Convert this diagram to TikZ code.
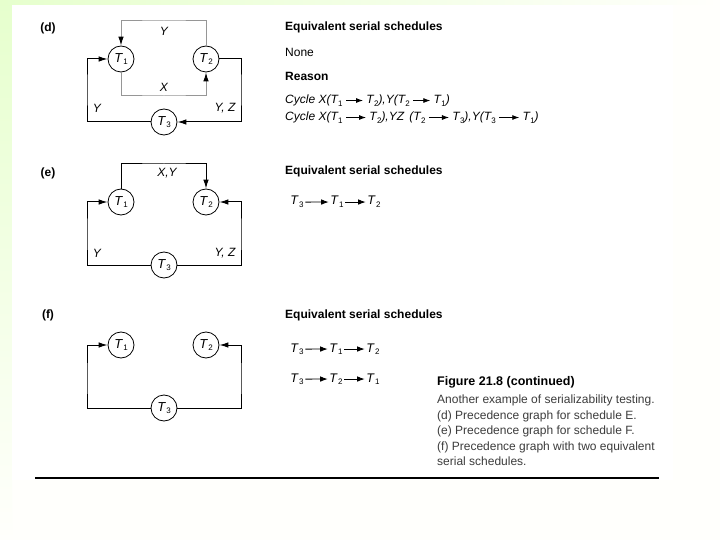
\documentclass[tikz,border=0pt]{standalone}
\usepackage{fontspec}
\setmainfont{Liberation Sans}
\usetikzlibrary{arrows.meta}
\definecolor{bggreen}{RGB}{230,255,205}
\definecolor{bgoff}{RGB}{255,255,252}
\definecolor{capgray}{RGB}{60,60,60}
\definecolor{linegray}{RGB}{150,150,150}
\newcommand{\tnm}[1]{\textit{T}\kern0.3pt\raisebox{-0.4ex}{\fontsize{8}{8}\selectfont\upshape #1}}
\newcommand{\sarrow}[1][17]{\hspace{3pt}\tikz[baseline=-0.55ex]\draw[line width=0.8pt,-{Latex[length=7pt,width=5pt]}] (0pt,0pt) -- (#1pt,0pt);\hspace{3pt}}
\begin{document}
\begin{tikzpicture}[x=1pt,y=-1pt,
  tnode/.style={circle,draw,line width=0.8pt,minimum size=26pt,inner sep=0pt,font=\fontsize{13}{14}\selectfont},
  edge/.style={line width=1pt},
  arr/.style={-{Latex[length=9pt,width=5.5pt,color=black]}},
  elabel/.style={font=\fontsize{12}{13}\selectfont\itshape},
  plabel/.style={font=\fontsize{12}{14}\selectfont\bfseries},
  heading/.style={anchor=base west,inner sep=0pt,font=\fontsize{12}{14}\selectfont\bfseries},
  body/.style={anchor=base west,inner sep=0pt,font=\fontsize{12}{14}\selectfont},
  cyc/.style={anchor=base west,inner sep=0pt,font=\fontsize{12}{14}\selectfont\itshape},
  snode/.style={anchor=base,inner sep=1.5pt,font=\fontsize{12.5}{14}\selectfont},
  sarr/.style={line width=0.9pt,-{Latex[length=7.5pt,width=5.5pt]}},
  captext/.style={anchor=base west,inner sep=0pt,text=capgray,font=\fontsize{12}{14}\selectfont}]
\useasboundingbox (0,0) rectangle (720,540);
% background
\fill[bgoff] (0,0) rectangle (720,540);
\shade[top color=bggreen,bottom color=bgoff] (0,0) rectangle (12,540);
\shade[left color=bggreen,right color=bgoff] (0,0) rectangle (720,5);
\fill[white] (12,5) rectangle (673,480);

% ---------- panel (d)
\node[plabel] (pd) at (48,28) {(d)};
\node[tnode] (T1d) at (121,59) {\tnm{1}};
\node[tnode] (T2d) at (206,59) {\tnm{2}};
\node[tnode] (T3d) at (164,122) {\tnm{3}};
\coordinate (dtop) at (164,21);
\coordinate (dmid) at (164,96);
\coordinate (dleft) at (87,90);
\coordinate (dright) at (241,90);
\draw[edge,linegray,arr] (T2d.north) |- (dtop) -| (T1d.north);
\draw[edge,linegray,arr] (T1d.south) |- (dmid) -| (T2d.south);
\draw[edge,arr] (T3d.west) -| (dleft) |- (T1d.west);
\draw[edge,arr] (T2d.east) -| (dright) |- (T3d.east);
\node[elabel] (ldy) at (164,31) {Y};
\node[elabel] (ldx) at (164,87) {X};
\node[elabel] (ldl) at (97,108) {Y};
\node[elabel] (ldr) at (225,108) {Y, Z};

\node[heading] (hd) at (285,31) {Equivalent serial schedules};
\node[body] (none) at (285,57) {None};
\node[heading] (reason) at (285,81) {Reason};
\node[cyc] (cyc1) at (285,104) {Cycle X(\tnm{1}\sarrow\tnm{2}),Y(\tnm{2}\sarrow\tnm{1})};
\node[cyc] (cyc2) at (285,121) {Cycle X(\tnm{1}\sarrow[20]\tnm{2}),YZ\hspace{2pt} (\tnm{2}\sarrow[20]\tnm{3}),Y(\tnm{3}\sarrow[20]\tnm{1})};

% ---------- panel (e)
\node[plabel] (pe) at (48,173) {(e)};
\node[tnode] (T1e) at (121,202) {\tnm{1}};
\node[tnode] (T2e) at (206,202) {\tnm{2}};
\node[tnode] (T3e) at (164,265) {\tnm{3}};
\coordinate (etop) at (164,164);
\coordinate (eleft) at (87,235);
\coordinate (eright) at (241,235);
\draw[edge,arr] (T1e.north) |- (etop) -| (T2e.north);
\draw[edge,arr] (T3e.west) -| (eleft) |- (T1e.west);
\draw[edge,arr] (T3e.east) -| (eright) |- (T2e.east);
\node[elabel] (lexy) at (167,173) {X,Y};
\node[elabel] (lel) at (97,253) {Y};
\node[elabel] (ler) at (225,253) {Y, Z};

\node[heading] (he) at (285,175) {Equivalent serial schedules};
\node[snode] (e1) at (297,205) {\tnm{3}};
\node[snode] (e2) at (337,205) {\tnm{1}};
\node[snode] (e3) at (374,205) {\tnm{2}};
\draw[sarr] (e1.east) -- (e2.west);
\draw[sarr] (e2.east) -- (e3.west);

% ---------- panel (f)
\node[plabel] (pf) at (48,315) {(f)};
\node[tnode] (T1f) at (121,345) {\tnm{1}};
\node[tnode] (T2f) at (206,345) {\tnm{2}};
\node[tnode] (T3f) at (164,408) {\tnm{3}};
\coordinate (fleft) at (87,380);
\coordinate (fright) at (241,380);
\draw[edge,arr] (T3f.west) -| (fleft) |- (T1f.west);
\draw[edge,arr] (T3f.east) -| (fright) |- (T2f.east);

\node[heading] (hf) at (285,318) {Equivalent serial schedules};
\node[snode] (f1) at (297,352) {\tnm{3}};
\node[snode] (f2) at (336,352) {\tnm{1}};
\node[snode] (f3) at (373,352) {\tnm{2}};
\draw[sarr] (f1.east) -- (f2.west);
\draw[sarr] (f2.east) -- (f3.west);
\node[snode] (g1) at (297,382) {\tnm{3}};
\node[snode] (g2) at (336,382) {\tnm{2}};
\node[snode] (g3) at (373,382) {\tnm{1}};
\draw[sarr] (g1.east) -- (g2.west);
\draw[sarr] (g2.east) -- (g3.west);

% ---------- caption
\node[anchor=base west,inner sep=0pt,font=\fontsize{12.5}{14}\selectfont\bfseries] (cap0) at (437,385) {Figure 21.8 (continued)};
\node[captext] (cap1) at (437,403) {Another example of serializability testing.};
\node[captext] (cap2) at (437,419) {(d) Precedence graph for schedule E.};
\node[captext] (cap3) at (437,434.5) {(e) Precedence graph for schedule F.};
\node[captext] (cap4) at (437,450) {(f) Precedence graph with two equivalent};
\node[captext] (cap5) at (437,465.5) {serial schedules.};
\coordinate (rl) at (35,478);
\coordinate (rr) at (659,478);
\draw[line width=1.3pt] (rl) -- (rr);
\end{tikzpicture}
\end{document}
